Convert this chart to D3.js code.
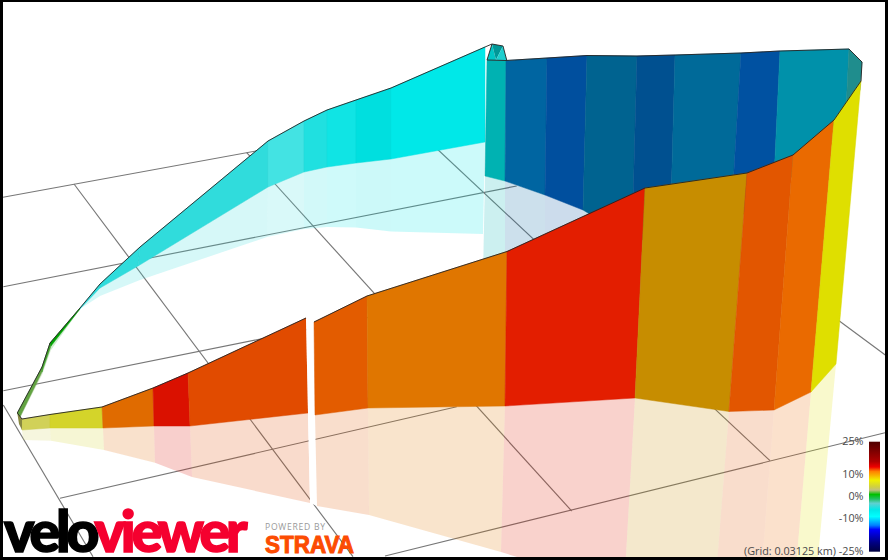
<!DOCTYPE html>
<html><head><meta charset="utf-8">
<script src="https://cdn.jsdelivr.net/npm/d3@7/dist/d3.min.js"></script>
<style>html,body{margin:0;padding:0;background:#fff}svg{display:block}</style>
</head><body><div id="c"></div>
<script>
// Colour ramp of the gradient legend (percent gradient -> colour)
const rampGrad  = [25,16,13.5,11.5,7.5,4.5,3,1,-1,-3,-6,-9,-13,-15,-21,-25];
const rampColor = ["#500000","#b00000","#f00000","#ff8000","#f0f000","#d0d040","#c0c080","#00c000","#20c060","#60d0d0","#00e8e8","#00ffff","#0080ff","#0000ff","#000080","#000040"];
const legendTicks = [25,10,0,-10,-25];

// Front wall (nearer road section) in view units
const frontTopX    = [22,50,102,153,188,306,314,367,507,645,747,793,834,861];
const frontHeight  = [11,13.5,21,38,53,95,93,112,154.5,210,238.5,255,272,283];
const frontBaseX   = [22,50,103,154,190,308,315,368,505,635,729,774,811,836];
const frontGround  = [430,428,428,426,426,413,415,408,406,398,411.5,410,392,364];
const frontMirrorX = [23,51,104,155,192,310,317,369,501,624,715,760,794,815];
const frontDepth   = [10,12.7,22,36.7,51,90,91,107,146,192,178.5,180,198,226];
const frontGrad    = [4,5.5,11.6,13.2,12.2,null,11.9,11.3,13,9.8,12,11.7,7.5];
const frontShade   = [1.03,.97,.88,.9,.9,1,.9,.88,.93,.8,.9,.92,.93];

// Rear wall, cyan climb
const rearTopX    = [17.3,42,50,80,100,140,268,304,327,356,391,485];
const rearHeight  = [4,5,3,1,4,19,46,51,57,63,71,95];
const rearBaseX   = [20,42,51,80,100,138,268,304,327,356,391,485];
const rearGround  = [417,372,346,309,288,266,187,172,167,163,159,142];
const rearMirrorX = [20,42,51,80,100,140,267,304,327,356,391,483];
const rearDepth   = [1,3,4,0,8,14,50,57,60,64.5,72.5,92];
const rearGrad    = [2.2,1.8,1,-4.5,-4.5,-4.5,-4,-5,-5.5,-6,-6.5];
const rearShade   = [.85,.85,.85,1,1,1,1.05,1,1,.96,.985];

// Rear wall, blue descent
const blueTopX    = [487,506,547,587,637,675,741,780,849,862];
const blueHeight  = [116,120.5,137,154.5,184,185,167,149,61,28];
const blueBaseX   = [485,505,545,583,632,670,731,773,846,860];
const blueGround  = [176,181,195,210,240,240,220,200,110,90];
const blueMirrorX = [483,505,545,583,632,670,731,773,846,860];
const blueDepth   = [100,119,100,60,60,60,60,40,8,4];
const blueGrad    = [-7,-12,-13,-11.5,-12.55,-11.5,-13,-10.2,-4.5];
const blueShade   = [.74,.63,.62,.565,.565,.6,.63,.667,.64];

// Small fold at the top of the climb
const foldX = [487,492,496,503,506.7];
const foldY = [60,44,60,46,60];
const foldTriangles = [[0,1,2],[1,3,2],[2,3,4]];
const foldGrad  = [-6,-6,-5];
const foldShade = [.85,.65,.92];

// End facet at the start of the route
const capX = [17.3,22,22,19];
const capY = [413,419,430,424];
const capGrad = 3.75, capShade = .68;

// Ground grid lines: [x1,y1,x2,y2]
const gridA = [3,197.3,480,110];
const gridB = [3.3,286.7,516.7,186];
const gridC = [3.3,390.7,430,305];
const gridD = [60,498.3,456.7,406.7];
const gridE = [385,556,885,432.7];
const gridF = [3.3,405,93,556.7];
const gridG = [74,184,353,556.7];
const gridH = [246.7,152.7,571.7,511];
const gridI = [403,117,770,460.7];
const gridJ = [838,320,888,357];
const gridLines = [gridA,gridB,gridC,gridD,gridE,gridF,gridG,gridH,gridI,gridJ];

const W = 888, H = 560;
const x = d3.scaleLinear().domain([0,888]).range([0,W]);
const y = d3.scaleLinear().domain([0,560]).range([0,H]);
const ramp = d3.scaleLinear().domain(rampGrad).range(rampColor).interpolate(d3.interpolateRgb).clamp(true);
const legendY = d3.scaleLinear().domain([25,-25]).range([441.7,551.7]);

function colour(g,s){
  if(g===null) return "#fff";
  const c = d3.rgb(ramp(g));
  return d3.rgb(Math.min(255,c.r*s),Math.min(255,c.g*s),Math.min(255,c.b*s)).formatHex();
}
const pathLine = d3.line().x(d=>x(d[0])).y(d=>y(d[1]));
const closed = d3.line().x(d=>x(d[0])).y(d=>y(d[1])).curve(d3.curveLinearClosed);

const svg = d3.select("#c").append("svg").attr("width",W).attr("height",H);
svg.append("rect").attr("width",W).attr("height",H).attr("fill","#fff");

svg.append("g").selectAll("line").data(gridLines).join("line")
  .attr("x1",d=>x(d[0])).attr("y1",d=>y(d[1])).attr("x2",d=>x(d[2])).attr("y2",d=>y(d[3]))
  .attr("stroke","#777").attr("stroke-width",1.15);

function sections(topX,height,baseX,ground,mirX,depth,grad,shade){
  return grad.map((g,i)=>({
    g, c:colour(g,shade[i]),
    wall:[[topX[i],ground[i]-height[i]],[topX[i+1],ground[i+1]-height[i+1]],[baseX[i+1],ground[i+1]],[baseX[i],ground[i]]],
    mirror:[[baseX[i],ground[i]],[baseX[i+1],ground[i+1]],[mirX[i+1],ground[i+1]+depth[i+1]],[mirX[i],ground[i]+depth[i]]]
  }));
}
const rear  = sections(rearTopX,rearHeight,rearBaseX,rearGround,rearMirrorX,rearDepth,rearGrad,rearShade);
const blue  = sections(blueTopX,blueHeight,blueBaseX,blueGround,blueMirrorX,blueDepth,blueGrad,blueShade);
const front = sections(frontTopX,frontHeight,frontBaseX,frontGround,frontMirrorX,frontDepth,frontGrad,frontShade);

function mirrors(data){
  svg.append("g").selectAll("path").data(data).join("path")
    .attr("d",d=>closed(d.mirror)).attr("fill",d=>d.c)
    .attr("fill-opacity",d=>d.g===null?1:0.2);
}
function walls(data){
  svg.append("g").selectAll("path").data(data).join("path")
    .attr("d",d=>closed(d.wall)).attr("fill",d=>d.c)
    .attr("stroke",d=>d.g===null?"none":d3.color(d.c).darker(.1))
    .attr("stroke-width",.5);
}
mirrors(rear); mirrors(blue);
walls(rear); walls(blue);

svg.append("g").selectAll("path").data(foldTriangles).join("path")
  .attr("d",t=>closed(t.map(i=>[foldX[i],foldY[i]])))
  .attr("fill",(t,i)=>colour(foldGrad[i],foldShade[i]));

mirrors(front);
walls(front);
svg.append("path").attr("d",closed(capX.map((v,i)=>[v,capY[i]]))).attr("fill",colour(capGrad,capShade));

// Dark top edges
const topPts = (xs,hs,gs)=>xs.map((v,i)=>[v,gs[i]-hs[i]]);
const edge = (pts)=>svg.append("path").attr("d",pathLine(pts)).attr("fill","none")
  .attr("stroke","#222").attr("stroke-width",.9).attr("stroke-linejoin","round");
const n = frontTopX.length;
edge(topPts(frontTopX,frontHeight,frontGround).slice(0,6));
edge(topPts(frontTopX,frontHeight,frontGround).slice(6,n));
edge(topPts(rearTopX,rearHeight,rearGround).concat([[foldX[1],foldY[1]],[foldX[3],foldY[3]],[foldX[4],foldY[4]]]));
edge([[foldX[0],foldY[0]],[foldX[1],foldY[1]]]);
edge(topPts(blueTopX,blueHeight,blueGround));
edge([[capX[0],capY[0]],[capX[1],capY[1]]]);
edge([[frontTopX[n-1],frontGround[n-1]-frontHeight[n-1]],[blueTopX[9],blueGround[9]-blueHeight[9]]]);

// Legend
const defs = svg.append("defs");
const lg = defs.append("linearGradient").attr("id","legend").attr("x1",0).attr("x2",0).attr("y1",0).attr("y2",1);
lg.selectAll("stop").data(rampGrad).join("stop")
  .attr("offset",d=>(25-d)/50).attr("stop-color",d=>ramp(d));
svg.append("rect").attr("x",869).attr("y",legendY(25)).attr("width",11)
  .attr("height",legendY(-25)-legendY(25)).attr("fill","url(#legend)");
svg.append("g").selectAll("text").data(legendTicks).join("text")
  .attr("x",863.5).attr("y",d=>legendY(d)).attr("dy","0.35em").attr("text-anchor","end")
  .attr("font-family","'Open Sans',sans-serif").attr("font-size",10.8).attr("fill","#4a4a4a")
  .text(d=>(d===-25?"(Grid: 0.03125 km) ":"")+d+"%");

// Logos
const logo = svg.append("g");
const word = logo.append("text").attr("x",4).attr("y",551.5)
  .attr("font-family","Lato,'Liberation Sans',sans-serif").attr("font-weight",900).attr("font-size",57)
  .attr("letter-spacing",-4).attr("stroke-width",1.6);
word.append("tspan").attr("fill","#000").attr("stroke","#000").text("velo");
word.append("tspan").attr("fill","#f5002f").attr("stroke","#f5002f").text("viewer");
logo.append("text").attr("x",265).attr("y",530).attr("textLength",60)
  .attr("font-family","'Open Sans',sans-serif").attr("font-size",8.6).attr("fill","#999").text("POWERED BY");
logo.append("text").attr("x",265).attr("y",552.5).attr("textLength",89).attr("lengthAdjust","spacingAndGlyphs")
  .attr("font-family","'Liberation Sans',sans-serif").attr("font-weight",700).attr("font-size",23)
  .attr("fill","#fc4c02").attr("stroke","#fc4c02").attr("stroke-width",1).text("STRAVA");

// Frame
const frame = [[0,0,W,2],[0,0,3,H],[885,0,3,H],[0,557,W,3]];
svg.append("g").selectAll("rect").data(frame).join("rect")
  .attr("x",d=>d[0]).attr("y",d=>d[1]).attr("width",d=>d[2]).attr("height",d=>d[3]).attr("fill","#000");
</script></body></html>
